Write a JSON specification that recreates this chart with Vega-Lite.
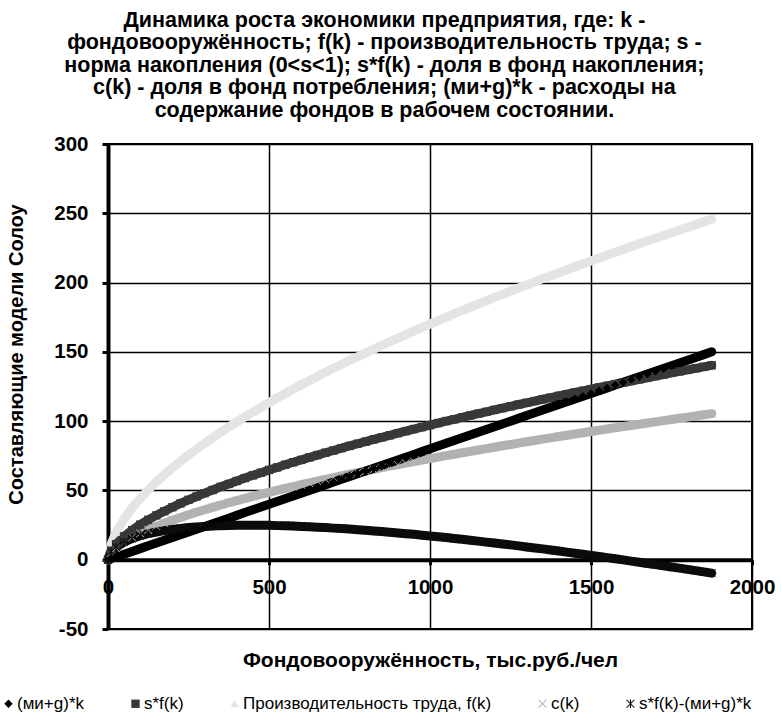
{
  "$schema": "https://vega.github.io/schema/vega-lite/v6.json",
  "width": 644,
  "height": 485,
  "padding": {"left": 0, "top": 9, "right": 3, "bottom": 5},
  "background": "white",
  "config": {"view": {"stroke": "black", "strokeWidth": 2}, "font": "Liberation Sans"},
  "title": {
    "text": [
      "Динамика роста экономики предприятия, где: k -",
      "фондовооружённость; f(k) - производительность труда; s -",
      "норма накопления (0<s<1); s*f(k) - доля в фонд накопления;",
      "c(k) - доля в фонд потребления; (ми+g)*k - расходы на",
      "содержание фондов в рабочем состоянии."
    ],
    "font": "Liberation Sans",
    "fontSize": 21.5,
    "fontWeight": "bold",
    "lineHeight": 22.5,
    "color": "black",
    "anchor": "middle",
    "frame": "bounds",
    "dx": -3,
    "offset": 13
  },
  "data": {
    "values": [
      {"k": 0, "mg": 0, "sf": 0, "f": 0, "c": 0, "d": 0},
      {"k": 10, "mg": 0.8, "sf": 6.6, "f": 11.5, "c": 4.9, "d": 5.8},
      {"k": 25, "mg": 2, "sf": 11.2, "f": 19.7, "c": 8.4, "d": 9.2},
      {"k": 50, "mg": 4, "sf": 16.8, "f": 29.5, "c": 12.6, "d": 12.8},
      {"k": 75, "mg": 6, "sf": 21.3, "f": 37.4, "c": 16.0, "d": 15.3},
      {"k": 100, "mg": 8, "sf": 25.3, "f": 44.2, "c": 19.0, "d": 17.3},
      {"k": 125, "mg": 10, "sf": 28.8, "f": 50.4, "c": 21.6, "d": 18.8},
      {"k": 150, "mg": 12, "sf": 32.0, "f": 56.1, "c": 24.1, "d": 20.0},
      {"k": 175, "mg": 14, "sf": 35.0, "f": 61.4, "c": 26.3, "d": 21.0},
      {"k": 200, "mg": 16, "sf": 37.9, "f": 66.3, "c": 28.5, "d": 21.9},
      {"k": 225, "mg": 18, "sf": 40.6, "f": 71.1, "c": 30.5, "d": 22.6},
      {"k": 250, "mg": 20, "sf": 43.2, "f": 75.6, "c": 32.4, "d": 23.2},
      {"k": 275, "mg": 22, "sf": 45.6, "f": 79.9, "c": 34.3, "d": 23.6},
      {"k": 300, "mg": 24, "sf": 48.0, "f": 84.1, "c": 36.1, "d": 24.0},
      {"k": 325, "mg": 26, "sf": 50.3, "f": 88.1, "c": 37.8, "d": 24.3},
      {"k": 350, "mg": 28, "sf": 52.6, "f": 92.0, "c": 39.5, "d": 24.6},
      {"k": 375, "mg": 30, "sf": 54.7, "f": 95.8, "c": 41.1, "d": 24.7},
      {"k": 400, "mg": 32, "sf": 56.8, "f": 99.5, "c": 42.7, "d": 24.8},
      {"k": 425, "mg": 34, "sf": 58.9, "f": 103.1, "c": 44.2, "d": 24.9},
      {"k": 450, "mg": 36, "sf": 60.9, "f": 106.6, "c": 45.7, "d": 24.9},
      {"k": 475, "mg": 38, "sf": 62.8, "f": 110.0, "c": 47.2, "d": 24.8},
      {"k": 500, "mg": 40, "sf": 64.8, "f": 113.4, "c": 48.6, "d": 24.8},
      {"k": 525, "mg": 42, "sf": 66.6, "f": 116.7, "c": 50.1, "d": 24.6},
      {"k": 550, "mg": 44, "sf": 68.5, "f": 119.9, "c": 51.4, "d": 24.5},
      {"k": 575, "mg": 46, "sf": 70.3, "f": 123.1, "c": 52.8, "d": 24.3},
      {"k": 600, "mg": 48, "sf": 72.0, "f": 126.2, "c": 54.1, "d": 24.0},
      {"k": 625, "mg": 50, "sf": 73.8, "f": 129.2, "c": 55.4, "d": 23.8},
      {"k": 650, "mg": 52, "sf": 75.5, "f": 132.2, "c": 56.7, "d": 23.5},
      {"k": 675, "mg": 54, "sf": 77.2, "f": 135.2, "c": 58.0, "d": 23.2},
      {"k": 700, "mg": 56, "sf": 78.8, "f": 138.1, "c": 59.2, "d": 22.8},
      {"k": 725, "mg": 58, "sf": 80.5, "f": 140.9, "c": 60.5, "d": 22.5},
      {"k": 750, "mg": 60, "sf": 82.1, "f": 143.8, "c": 61.7, "d": 22.1},
      {"k": 775, "mg": 62, "sf": 83.7, "f": 146.5, "c": 62.9, "d": 21.7},
      {"k": 800, "mg": 64, "sf": 85.2, "f": 149.3, "c": 64.0, "d": 21.2},
      {"k": 825, "mg": 66, "sf": 86.8, "f": 152.0, "c": 65.2, "d": 20.8},
      {"k": 850, "mg": 68, "sf": 88.3, "f": 154.7, "c": 66.4, "d": 20.3},
      {"k": 875, "mg": 70, "sf": 89.8, "f": 157.3, "c": 67.5, "d": 19.8},
      {"k": 900, "mg": 72, "sf": 91.3, "f": 159.9, "c": 68.6, "d": 19.3},
      {"k": 925, "mg": 74, "sf": 92.8, "f": 162.5, "c": 69.7, "d": 18.8},
      {"k": 950, "mg": 76, "sf": 94.3, "f": 165.1, "c": 70.8, "d": 18.3},
      {"k": 975, "mg": 78, "sf": 95.7, "f": 167.6, "c": 71.9, "d": 17.7},
      {"k": 1000, "mg": 80, "sf": 97.1, "f": 170.1, "c": 73.0, "d": 17.1},
      {"k": 1025, "mg": 82, "sf": 98.6, "f": 172.6, "c": 74.0, "d": 16.6},
      {"k": 1050, "mg": 84, "sf": 100.0, "f": 175.0, "c": 75.1, "d": 16.0},
      {"k": 1075, "mg": 86, "sf": 101.3, "f": 177.5, "c": 76.1, "d": 15.3},
      {"k": 1100, "mg": 88, "sf": 102.7, "f": 179.9, "c": 77.2, "d": 14.7},
      {"k": 1125, "mg": 90, "sf": 104.1, "f": 182.2, "c": 78.2, "d": 14.1},
      {"k": 1150, "mg": 92, "sf": 105.4, "f": 184.6, "c": 79.2, "d": 13.4},
      {"k": 1175, "mg": 94, "sf": 106.7, "f": 186.9, "c": 80.2, "d": 12.7},
      {"k": 1200, "mg": 96, "sf": 108.1, "f": 189.3, "c": 81.2, "d": 12.1},
      {"k": 1225, "mg": 98, "sf": 109.4, "f": 191.5, "c": 82.2, "d": 11.4},
      {"k": 1250, "mg": 100, "sf": 110.7, "f": 193.8, "c": 83.1, "d": 10.7},
      {"k": 1275, "mg": 102, "sf": 112.0, "f": 196.1, "c": 84.1, "d": 10.0},
      {"k": 1300, "mg": 104, "sf": 113.2, "f": 198.3, "c": 85.1, "d": 9.2},
      {"k": 1325, "mg": 106, "sf": 114.5, "f": 200.5, "c": 86.0, "d": 8.5},
      {"k": 1350, "mg": 108, "sf": 115.8, "f": 202.8, "c": 87.0, "d": 7.8},
      {"k": 1375, "mg": 110, "sf": 117.0, "f": 204.9, "c": 87.9, "d": 7.0},
      {"k": 1400, "mg": 112, "sf": 118.3, "f": 207.1, "c": 88.9, "d": 6.3},
      {"k": 1425, "mg": 114, "sf": 119.5, "f": 209.3, "c": 89.8, "d": 5.5},
      {"k": 1450, "mg": 116, "sf": 120.7, "f": 211.4, "c": 90.7, "d": 4.7},
      {"k": 1475, "mg": 118, "sf": 121.9, "f": 213.5, "c": 91.6, "d": 3.9},
      {"k": 1500, "mg": 120, "sf": 123.1, "f": 215.6, "c": 92.5, "d": 3.1},
      {"k": 1525, "mg": 122, "sf": 124.3, "f": 217.7, "c": 93.4, "d": 2.3},
      {"k": 1550, "mg": 124, "sf": 125.5, "f": 219.8, "c": 94.3, "d": 1.5},
      {"k": 1575, "mg": 126, "sf": 126.7, "f": 221.9, "c": 95.2, "d": 0.7},
      {"k": 1600, "mg": 128, "sf": 127.9, "f": 223.9, "c": 96.1, "d": -0.1},
      {"k": 1625, "mg": 130, "sf": 129.0, "f": 226.0, "c": 96.9, "d": -1.0},
      {"k": 1650, "mg": 132, "sf": 130.2, "f": 228.0, "c": 97.8, "d": -1.8},
      {"k": 1675, "mg": 134, "sf": 131.3, "f": 230.0, "c": 98.7, "d": -2.7},
      {"k": 1700, "mg": 136, "sf": 132.5, "f": 232.0, "c": 99.5, "d": -3.5},
      {"k": 1725, "mg": 138, "sf": 133.6, "f": 234.0, "c": 100.4, "d": -4.4},
      {"k": 1750, "mg": 140, "sf": 134.8, "f": 236.0, "c": 101.2, "d": -5.2},
      {"k": 1775, "mg": 142, "sf": 135.9, "f": 238.0, "c": 102.1, "d": -6.1},
      {"k": 1800, "mg": 144, "sf": 137.0, "f": 239.9, "c": 102.9, "d": -7.0},
      {"k": 1825, "mg": 146, "sf": 138.1, "f": 241.8, "c": 103.7, "d": -7.9},
      {"k": 1850, "mg": 148, "sf": 139.2, "f": 243.8, "c": 104.6, "d": -8.8},
      {"k": 1875, "mg": 150, "sf": 140.3, "f": 245.7, "c": 105.4, "d": -9.7}
    ]
  },
  "transform": [
    {"fold": ["f", "c", "sf", "mg", "d"], "as": ["key", "value"]},
    {
      "lookup": "key",
      "from": {
        "data": {
          "values": [
            {"key": "mg", "series": "(ми+g)*k"},
            {"key": "sf", "series": "s*f(k)"},
            {"key": "f", "series": "Производительность труда, f(k)"},
            {"key": "c", "series": "c(k)"},
            {"key": "d", "series": "s*f(k)-(ми+g)*k"}
          ]
        },
        "key": "key",
        "fields": ["series"]
      }
    }
  ],
  "encoding": {
    "x": {
      "field": "k",
      "type": "quantitative",
      "scale": {"domain": [0, 2000], "nice": false},
      "axis": {
        "values": [0, 500, 1000, 1500, 2000],
        "labelExpr": "'' + datum.value",
        "offset": -69.3,
        "labelFlush": false,
        "domainWidth": 4,
        "domainColor": "black",
        "tickColor": "black",
        "tickWidth": 3,
        "tickSize": 5,
        "labelFont": "Liberation Sans",
        "labelFontSize": 20.5,
        "labelFontWeight": "bold",
        "labelColor": "black",
        "labelPadding": 13,
        "grid": true,
        "gridColor": "black",
        "gridWidth": 1.5,
        "gridOpacity": 1,
        "title": "Фондовооружённость, тыс.руб./чел",
        "titleFont": "Liberation Sans",
        "titleFontSize": 21,
        "titleFontWeight": "bold",
        "titleColor": "black",
        "titlePadding": 51
      }
    },
    "y": {
      "field": "value",
      "type": "quantitative",
      "scale": {"domain": [-50, 300], "nice": false},
      "axis": {
        "values": [-50, 0, 50, 100, 150, 200, 250, 300],
        "labelExpr": "'' + datum.value",
        "domainWidth": 4,
        "domainColor": "black",
        "tickColor": "black",
        "tickWidth": 3,
        "tickSize": 6,
        "labelFont": "Liberation Sans",
        "labelFontSize": 20.5,
        "labelFontWeight": "bold",
        "labelColor": "black",
        "labelPadding": 14,
        "grid": true,
        "gridColor": "black",
        "gridWidth": 1.5,
        "gridOpacity": 1,
        "title": "Составляющие модели Солоу",
        "titleFont": "Liberation Sans",
        "titleFontSize": 20,
        "titleFontWeight": "bold",
        "titleColor": "black",
        "titlePadding": 27,
        "titleY": 210
      }
    },
    "color": {
      "field": "series",
      "type": "nominal",
      "scale": {
        "domain": ["(ми+g)*k", "s*f(k)", "Производительность труда, f(k)", "c(k)", "s*f(k)-(ми+g)*k"],
        "range": ["#000000", "#383838", "#e4e4e4", "#b2b2b2", "#0c0c0c"]
      },
      "legend": {
        "title": null,
        "orient": "none",
        "legendX": -108,
        "legendY": 551,
        "direction": "horizontal",
        "labelFont": "Liberation Sans",
        "labelFontSize": 17,
        "labelColor": "black",
        "labelOffset": 0,
        "symbolSize": 70,
        "symbolStrokeWidth": 0,
        "columnPadding": 42,
        "labelLimit": 400
      }
    }
  },
  "layer": [
    {
      "mark": {"type": "line", "strokeWidth": 9, "strokeCap": "round"}
    },
    {
      "mark": {"type": "point", "filled": true, "size": 70, "opacity": 1, "strokeWidth": 0},
      "encoding": {
        "shape": {
          "field": "series",
          "type": "nominal",
          "scale": {
            "domain": ["(ми+g)*k", "s*f(k)", "Производительность труда, f(k)", "c(k)", "s*f(k)-(ми+g)*k"],
            "range": [
              "diamond",
              "square",
              "triangle-up",
              "M-0.85,-1L0,-0.15L0.85,-1L1,-0.85L0.15,0L1,0.85L0.85,1L0,0.15L-0.85,1L-1,0.85L-0.15,0L-1,-0.85Z",
              "M-0.85,-1L0,-0.15L0.85,-1L1,-0.85L0.15,0L1,0.85L0.85,1L0,0.15L-0.85,1L-1,0.85L-0.15,0L-1,-0.85ZM-0.13,-1L0.13,-1L0.13,1L-0.13,1Z"
            ]
          },
          "legend": {
            "title": null,
            "orient": "none",
            "legendX": -108,
            "legendY": 551,
            "direction": "horizontal",
            "labelFont": "Liberation Sans",
            "labelFontSize": 17,
            "labelColor": "black",
            "labelOffset": 0,
            "symbolSize": 70,
            "symbolStrokeWidth": 0,
            "columnPadding": 42,
            "labelLimit": 400
          }
        }
      }
    }
  ]
}
